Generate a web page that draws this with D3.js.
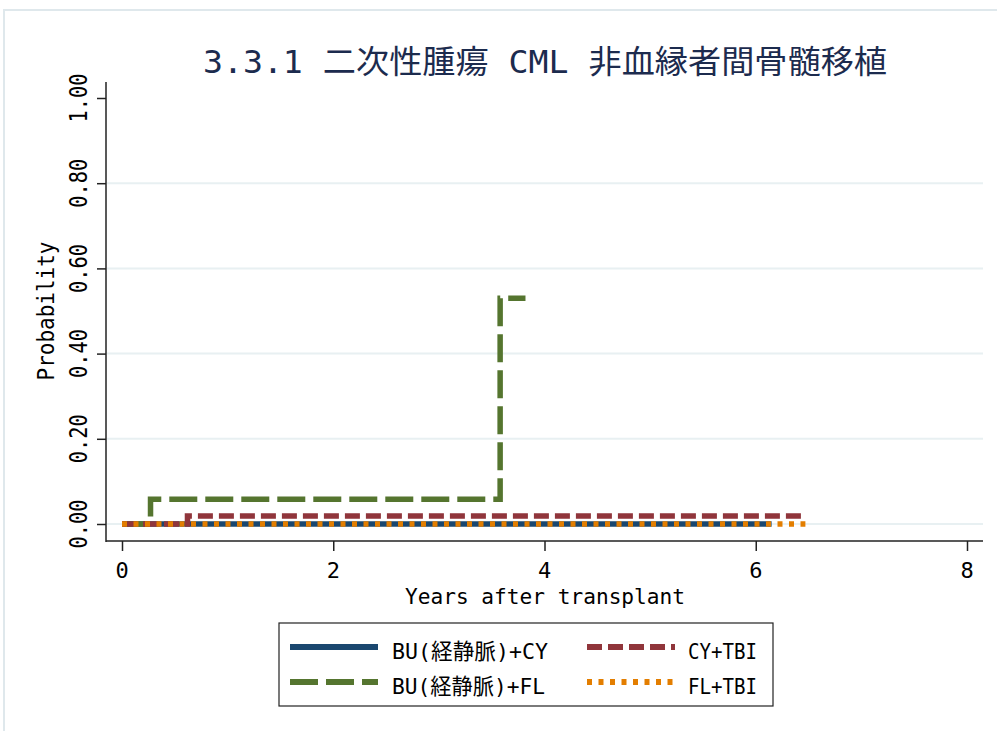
<!DOCTYPE html>
<html>
<head>
<meta charset="utf-8">
<script src="https://cdn.jsdelivr.net/npm/d3@7"></script>
<style>
  body { margin: 0; background: #fff; }
  text { font-family: "DejaVu Sans Mono", "Noto Sans CJK JP", monospace; fill: #000; }
</style>
</head>
<body>
<div id="chart"></div>
<script>
// chart data
const titleText = '3.3.1 二次性腫瘍 CML 非血縁者間骨髄移植';
const xTicks = [0, 2, 4, 6, 8];
const yTicks = [0, 0.2, 0.4, 0.6, 0.8, 1.0];
const seriesNames = ['BU(経静脈)+CY', 'BU(経静脈)+FL', 'CY+TBI', 'FL+TBI'];

const buCyTimes = [0, 6.15];
const buCyValues = [0, 0];
const buFlTimes = [0, 0.27, 3.58, 3.82];
const buFlValues = [0, 0.058, 0.53, 0.53];
const cyTbiTimes = [0, 0.62, 6.48];
const cyTbiValues = [0, 0.019, 0.019];
const flTbiTimes = [0, 6.47];
const flTbiValues = [0, 0];

const width = 997, height = 731;

const svg = d3.select('#chart')
  .append('svg')
  .attr('width', width)
  .attr('height', height);

// outer graph region border
svg.append('rect')
  .attr('x', 4).attr('y', 10)
  .attr('width', width + 10).attr('height', height + 10)
  .attr('fill', 'none')
  .attr('stroke', '#dfe8ec')
  .attr('stroke-width', 2);

const xScale = d3.scaleLinear().domain([0, 8]).range([122, 967]);
const yScale = d3.scaleLinear().domain([0, 1]).range([524, 98]);

// grid lines
svg.append('g')
  .selectAll('line')
  .data(yTicks.filter(d => d < 1))
  .join('line')
  .attr('x1', 107).attr('x2', 983)
  .attr('y1', d => yScale(d)).attr('y2', d => yScale(d))
  .attr('stroke', '#e8f0f2')
  .attr('stroke-width', 2);

// title
svg.append('text')
  .attr('x', 545).attr('y', 73)
  .attr('text-anchor', 'middle')
  .attr('font-size', '32px')
  .attr('textLength', 684)
  .attr('lengthAdjust', 'spacingAndGlyphs')
  .style('fill', '#1c2b4e')
  .text(titleText);

// y axis
const yAxis = svg.append('g')
  .attr('transform', 'translate(106,0)')
  .call(d3.axisLeft(yScale).tickValues(yTicks).tickSize(9).tickFormat(''));
yAxis.select('.domain').remove();
yAxis.selectAll('line').attr('stroke', '#222').attr('stroke-width', 1.5);

svg.append('line')
  .attr('x1', 106).attr('x2', 106)
  .attr('y1', 82).attr('y2', 542)
  .attr('stroke', '#222').attr('stroke-width', 1.5);

svg.append('g')
  .selectAll('text')
  .data(yTicks)
  .join('text')
  .attr('transform', d => `translate(87,${yScale(d)}) rotate(-90)`)
  .attr('text-anchor', 'middle')
  .attr('font-size', '24px')
  .attr('textLength', 49)
  .attr('lengthAdjust', 'spacingAndGlyphs')
  .text(d => d3.format('.2f')(d));

// y axis label
svg.append('text')
  .attr('transform', 'translate(54,311) rotate(-90)')
  .attr('text-anchor', 'middle')
  .attr('font-size', '23px')
  .attr('textLength', 139)
  .attr('lengthAdjust', 'spacingAndGlyphs')
  .text('Probability');

// x axis
const xAxis = svg.append('g')
  .attr('transform', 'translate(0,541)')
  .call(d3.axisBottom(xScale).tickValues(xTicks).tickSize(10).tickFormat(''));
xAxis.select('.domain').remove();
xAxis.selectAll('line').attr('stroke', '#222').attr('stroke-width', 1.5);

svg.append('line')
  .attr('x1', 106).attr('x2', 983)
  .attr('y1', 541).attr('y2', 541)
  .attr('stroke', '#222').attr('stroke-width', 1.5);

svg.append('g')
  .selectAll('text')
  .data(xTicks)
  .join('text')
  .attr('x', d => xScale(d))
  .attr('y', 578)
  .attr('text-anchor', 'middle')
  .attr('font-size', '22px')
  .text(d => d);

// x axis label
svg.append('text')
  .attr('x', 545).attr('y', 604)
  .attr('text-anchor', 'middle')
  .attr('font-size', '22px')
  .attr('textLength', 280)
  .attr('lengthAdjust', 'spacingAndGlyphs')
  .text('Years after transplant');

// series
const series = [
  { name: seriesNames[0], times: buCyTimes, values: buCyValues, color: '#1a476f', dash: null },
  { name: seriesNames[1], times: buFlTimes, values: buFlValues, color: '#55752f', dash: '28,8' },
  { name: seriesNames[2], times: cyTbiTimes, values: cyTbiValues, color: '#90353b', dash: '15,6' },
  { name: seriesNames[3], times: flTbiTimes, values: flTbiValues, color: '#e37e00', dash: '5,6.5' }
];

const line = d3.line()
  .x(d => xScale(d[0]))
  .y(d => yScale(d[1]))
  .curve(d3.curveStepAfter);

svg.append('g')
  .selectAll('path')
  .data(series)
  .join('path')
  .attr('d', s => line(s.times.map((t, i) => [t, s.values[i]])))
  .attr('fill', 'none')
  .attr('stroke', s => s.color)
  .attr('stroke-width', 5.5)
  .attr('stroke-dasharray', s => s.dash);

// legend
svg.append('rect')
  .attr('x', 279).attr('y', 623)
  .attr('width', 494).attr('height', 83)
  .attr('fill', '#fff')
  .attr('stroke', '#222')
  .attr('stroke-width', 1.2);

const legendPos = [
  { x: 290, y: 647, tx: 392, tl: 156 },
  { x: 290, y: 682, tx: 392, tl: 153 },
  { x: 587, y: 647, tx: 688, tl: 69 },
  { x: 587, y: 682, tx: 688, tl: 69 }
];

const legend = svg.append('g')
  .selectAll('g')
  .data(series)
  .join('g');

legend.append('line')
  .attr('x1', (s, i) => legendPos[i].x)
  .attr('x2', (s, i) => legendPos[i].x + 88)
  .attr('y1', (s, i) => legendPos[i].y)
  .attr('y2', (s, i) => legendPos[i].y)
  .attr('stroke', s => s.color)
  .attr('stroke-width', 6)
  .attr('stroke-dasharray', s => s.dash);

legend.append('text')
  .attr('x', (s, i) => legendPos[i].tx)
  .attr('y', (s, i) => legendPos[i].y + 12)
  .attr('font-size', '22px')
  .attr('textLength', (s, i) => legendPos[i].tl)
  .attr('lengthAdjust', 'spacingAndGlyphs')
  .text(s => s.name);
</script>
</body>
</html>
